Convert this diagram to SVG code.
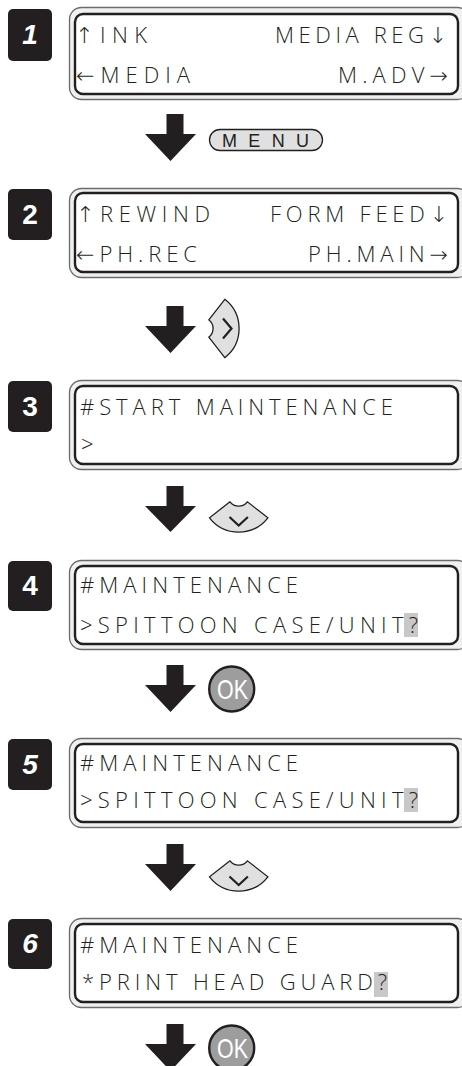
<svg xmlns="http://www.w3.org/2000/svg" width="462" height="1066" viewBox="0 0 462 1066">
<style>
.outer{fill:#f0f0f0;stroke:#6b6b6b;stroke-width:1.3}
.inner{fill:#ffffff;stroke:#231f20;stroke-width:2.4}
.badge{fill:#231f20}
.num{font-family:"Liberation Sans",Arial,sans-serif;font-weight:bold;font-size:28px;fill:#ffffff;text-anchor:middle}
.it{font-style:italic}
.lcd{font-family:"Open Sans","Noto Sans","DejaVu Sans",sans-serif;font-weight:300;font-size:22px;fill:#231f20}
.hl{fill:#c8c8c8}
.arrow{fill:#231f20}
.key{fill:#e0e0e0;stroke:#231f20;stroke-width:1.3}
.chev{fill:none;stroke:#231f20;stroke-width:2.2;stroke-linejoin:miter}
.ok{fill:#9d9d9d;stroke:#231f20;stroke-width:2.4}
.oktxt{font-family:"Liberation Sans",Arial,sans-serif;font-size:28px;fill:#ffffff;text-anchor:middle}
.menutxt{font-family:"Liberation Sans",Arial,sans-serif;font-size:18px;fill:#231f20}
</style>

<g id="step1">
<rect class="badge" x="8" y="9" width="44" height="52" rx="5"/>
<text class="num it" x="30" y="44">1</text>
<rect class="outer" x="69.5" y="7.5" width="400" height="92" rx="12"/>
<rect class="inner" x="75" y="14" width="383" height="80" rx="8"/>
<text class="lcd" x="75" y="43" textLength="72" lengthAdjust="spacing">↑INK</text>
<text class="lcd" x="275" y="43" textLength="172" lengthAdjust="spacing">MEDIA REG↓</text>
<text class="lcd" x="76" y="83" textLength="114" lengthAdjust="spacing">←MEDIA</text>
<text class="lcd" x="338" y="83" textLength="110" lengthAdjust="spacing">M.ADV→</text>
</g>

<g id="step2">
<rect class="badge" x="8" y="189" width="44" height="51" rx="5"/>
<text class="num" x="30" y="224">2</text>
<rect class="outer" x="69.5" y="188.5" width="400" height="89" rx="12"/>
<rect class="inner" x="75" y="193" width="383" height="79" rx="8"/>
<text class="lcd" x="76" y="222" textLength="134" lengthAdjust="spacing">↑REWIND</text>
<text class="lcd" x="270" y="222" textLength="178" lengthAdjust="spacing">FORM FEED↓</text>
<text class="lcd" x="76" y="262" textLength="121" lengthAdjust="spacing">←PH.REC</text>
<text class="lcd" x="308" y="262" textLength="140" lengthAdjust="spacing">PH.MAIN→</text>
</g>

<g id="step3">
<rect class="badge" x="8" y="381" width="44" height="51" rx="5"/>
<text class="num" x="30" y="416">3</text>
<rect class="outer" x="69.5" y="380.5" width="400" height="89" rx="12"/>
<rect class="inner" x="75" y="386" width="383" height="78" rx="8"/>
<text class="lcd" x="80" y="415" textLength="313" lengthAdjust="spacing">#START MAINTENANCE</text>
<text class="lcd" x="81" y="452">&gt;</text>
</g>

<g id="step4">
<rect class="badge" x="8" y="561" width="44" height="50" rx="5"/>
<text class="num" x="30" y="595">4</text>
<rect class="outer" x="69.5" y="560.5" width="400" height="89" rx="12"/>
<rect class="inner" x="75" y="566" width="383" height="78" rx="8"/>
<rect class="hl" x="404" y="613" width="14" height="24"/>
<text class="lcd" x="80" y="593" textLength="218" lengthAdjust="spacing">#MAINTENANCE</text>
<text class="lcd" x="80" y="633" textLength="338" lengthAdjust="spacing">&gt;SPITTOON CASE/UNIT?</text>
</g>

<g id="step5">
<rect class="badge" x="8" y="739" width="44" height="51" rx="5"/>
<text class="num it" x="30" y="774">5</text>
<rect class="outer" x="69.5" y="738.5" width="400" height="89" rx="12"/>
<rect class="inner" x="75" y="744" width="383" height="78" rx="8"/>
<rect class="hl" x="404" y="788" width="14" height="24"/>
<text class="lcd" x="80" y="771" textLength="218" lengthAdjust="spacing">#MAINTENANCE</text>
<text class="lcd" x="80" y="808" textLength="338" lengthAdjust="spacing">&gt;SPITTOON CASE/UNIT?</text>
</g>

<g id="step6">
<rect class="badge" x="8" y="919" width="44" height="50" rx="5"/>
<text class="num it" x="30" y="953">6</text>
<rect class="outer" x="69.5" y="918.5" width="400" height="89" rx="12"/>
<rect class="inner" x="75" y="924" width="383" height="78" rx="8"/>
<rect class="hl" x="374" y="972" width="14" height="25"/>
<text class="lcd" x="80" y="953" textLength="218" lengthAdjust="spacing">#MAINTENANCE</text>
<text class="lcd" x="82" y="990" textLength="305" lengthAdjust="spacing">*PRINT HEAD GUARD?</text>
</g>

<g id="connectors">
<path class="arrow" d="M166.5,114 H183.5 V134 H196 L170.5,161 L145,134 H166.5 Z"/>
<path class="arrow" d="M166.5,306 H183.5 V326 H196 L170.5,353 L145,326 H166.5 Z"/>
<path class="arrow" d="M166.5,486 H183.5 V506 H196 L170.5,532 L145,506 H166.5 Z"/>
<path class="arrow" d="M166.5,665 H183.5 V685 H196 L170.5,712 L145,685 H166.5 Z"/>
<path class="arrow" d="M166.5,844 H183.5 V864 H196 L170.5,891 L145,864 H166.5 Z"/>
<path class="arrow" d="M166.5,1024 H183.5 V1044 H196 L170.5,1071 L145,1044 H166.5 Z"/>
</g>

<g id="key-menu">
<rect class="key" x="209.5" y="129.5" width="113" height="21" rx="10.5"/>
<text class="menutxt" x="222" y="147" textLength="87" lengthAdjust="spacing">MENU</text>
</g>

<g id="key-right">
<path class="key" d="M208.8,319.8 L224.8,299.3 A37,37 0 0 1 224.8,357.7 L208.8,337.2 A11,11 0 0 0 208.8,319.8 Z"/>
<path class="chev" d="M223,318.5 L231.5,328.5 L223,338.5"/>
</g>

<g id="key-down-1">
<path class="key" d="M230,501.8 L209.5,517.8 A37,37 0 0 0 267.9,517.8 L247.4,501.8 A11,11 0 0 1 230,501.8 Z"/>
<path class="chev" d="M229.5,517 L238.7,525.5 L247.9,517"/>
</g>

<g id="key-ok-1">
<circle class="ok" cx="231.7" cy="689" r="22.5"/>
<text class="oktxt" x="232.5" y="698.5" textLength="31" lengthAdjust="spacingAndGlyphs">OK</text>
</g>

<g id="key-down-2">
<path class="key" d="M230,860.8 L209.5,876.8 A37,37 0 0 0 267.9,876.8 L247.4,860.8 A11,11 0 0 1 230,860.8 Z"/>
<path class="chev" d="M229.5,876.5 L238.7,885 L247.9,876.5"/>
</g>

<g id="key-ok-2">
<circle class="ok" cx="231.7" cy="1048" r="22.5"/>
<text class="oktxt" x="232.5" y="1057.5" textLength="31" lengthAdjust="spacingAndGlyphs">OK</text>
</g>
</svg>
